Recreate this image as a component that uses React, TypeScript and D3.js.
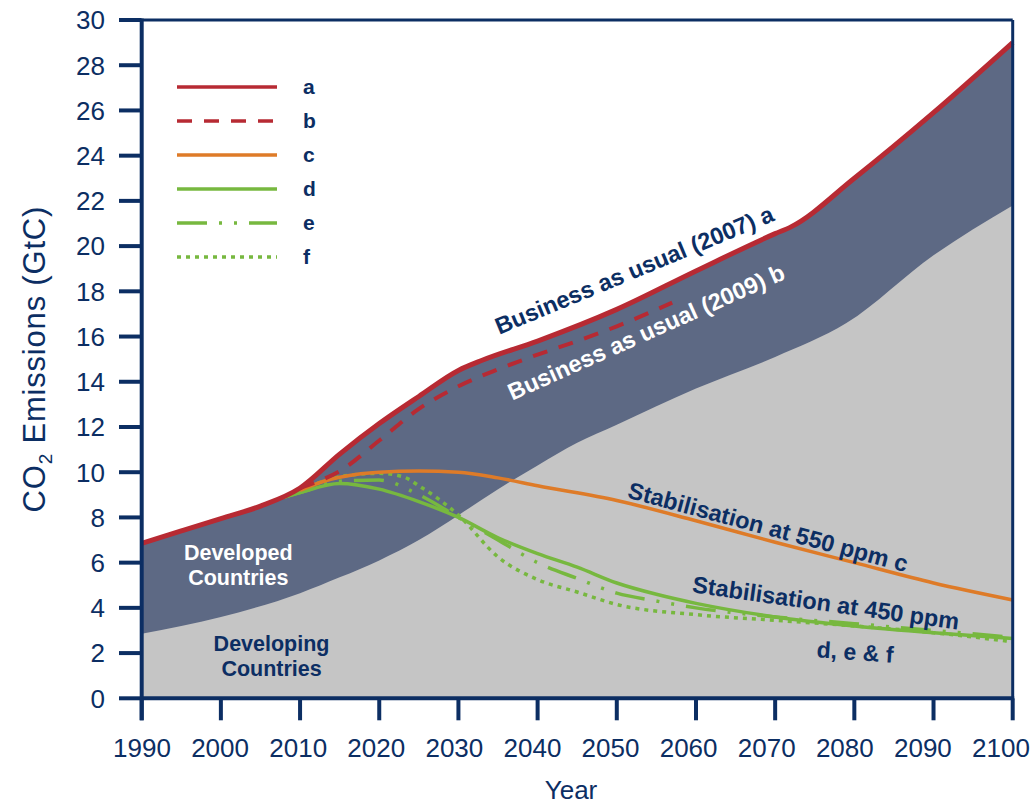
import React from 'react';
import * as d3 from 'd3';

// Business as usual (2007) a — also the top of the developed-countries band
const aYears = [1990, 1995, 2000, 2005, 2010, 2015, 2020, 2025, 2030, 2033, 2040, 2050, 2060, 2070, 2072, 2080, 2090, 2100];
const aValues = [6.85, 7.4, 7.95, 8.5, 9.3, 10.8, 12.15, 13.35, 14.5, 14.95, 15.8, 17.2, 18.9, 20.55, 20.85, 23.0, 25.9, 29.0];

// Business as usual (2009) b
const bYears = [2010, 2013, 2015, 2020, 2025, 2030, 2035, 2040, 2045, 2050, 2057];
const bValues = [9.3, 9.7, 10.05, 11.4, 12.8, 13.8, 14.55, 15.2, 15.8, 16.45, 17.5];

// Stabilisation at 550 ppm c
const cYears = [2010, 2013, 2017, 2020, 2025, 2030, 2035, 2040, 2050, 2060, 2070, 2080, 2090, 2100];
const cValues = [9.2, 9.6, 9.9, 10.0, 10.05, 10.0, 9.75, 9.4, 8.75, 7.85, 6.9, 6.0, 5.1, 4.35];

// Stabilisation at 450 ppm d, e & f
const dYears = [2008, 2010, 2015, 2020, 2025, 2030, 2035, 2040, 2045, 2050, 2055, 2060, 2070, 2080, 2090, 2100];
const dValues = [8.9, 9.1, 9.5, 9.25, 8.7, 8.0, 7.1, 6.4, 5.8, 5.1, 4.6, 4.2, 3.6, 3.2, 2.9, 2.65];
const eYears = [2008, 2010, 2015, 2020, 2025, 2030, 2035, 2040, 2045, 2050, 2055, 2060, 2070, 2080, 2090, 2100];
const eValues = [8.9, 9.1, 9.6, 9.65, 9.0, 8.0, 7.0, 6.0, 5.3, 4.65, 4.3, 4.0, 3.6, 3.3, 3.0, 2.7];
const fYears = [2008, 2010, 2015, 2020, 2023, 2025, 2030, 2035, 2040, 2045, 2050, 2060, 2070, 2080, 2090, 2100];
const fValues = [8.9, 9.2, 9.8, 9.95, 9.8, 9.4, 8.1, 6.25, 5.25, 4.7, 4.15, 3.7, 3.45, 3.2, 2.9, 2.5];

// Developing countries band (top edge)
const devYears = [1990, 2000, 2010, 2015, 2020, 2025, 2030, 2035, 2040, 2045, 2050, 2060, 2070, 2079, 2090, 2100];
const devValues = [2.85, 3.6, 4.65, 5.35, 6.1, 7.0, 8.1, 9.25, 10.3, 11.3, 12.1, 13.7, 15.1, 16.6, 19.6, 21.8];

const xTicks = [1990, 2000, 2010, 2020, 2030, 2040, 2050, 2060, 2070, 2080, 2090, 2100];
const yTicks = [0, 2, 4, 6, 8, 10, 12, 14, 16, 18, 20, 22, 24, 26, 28, 30];
const legendKeys = ['a', 'b', 'c', 'd', 'e', 'f'];

const NAVY = '#0c2e63';
const RED = '#b72a33';
const ORANGE = '#de7b28';
const GREEN = '#77b83f';
const SLATE = '#5d6984';
const GREY = '#c5c5c5';
const FONT = '"Liberation Sans", Arial, Helvetica, sans-serif';

const styles: Record<string, { color: string; width: number; dash?: string }> = {
  a: { color: RED, width: 5 },
  b: { color: RED, width: 4, dash: '15 12' },
  c: { color: ORANGE, width: 3.5 },
  d: { color: GREEN, width: 3.5 },
  e: { color: GREEN, width: 3.5, dash: '30 12 3 12 3 12' },
  f: { color: GREEN, width: 3.5, dash: '4 5' },
};

export default function App() {
  const left = 141.7, right = 1012.7, top = 20, bottom = 698.3;
  const x = d3.scaleLinear().domain([1990, 2100]).range([left, right]);
  const y = d3.scaleLinear().domain([0, 30]).range([bottom, top]);
  // year labels sit slightly left of their ticks toward the right end
  const xLabel = d3.scaleLinear().domain([1990, 2100]).range([142, 1001]);

  const zip = (ys: number[], vs: number[]) => ys.map((yr, i) => [yr, vs[i]] as [number, number]);
  const line = d3.line<[number, number]>().x(d => x(d[0])).y(d => y(d[1])).curve(d3.curveMonotoneX);
  const area = d3.area<[number, number]>().x(d => x(d[0])).y0(y(0)).y1(d => y(d[1])).curve(d3.curveMonotoneX);

  const series: Record<string, [number, number][]> = {
    a: zip(aYears, aValues),
    b: zip(bYears, bValues),
    c: zip(cYears, cValues),
    d: zip(dYears, dValues),
    e: zip(eYears, eValues),
    f: zip(fYears, fValues),
  };
  const drawOrder = ['f', 'e', 'd', 'c', 'b', 'a'];

  const label = (text: string, yr: number, v: number, angle: number, fill: string, size = 23.5) => (
    <text
      key={text}
      transform={`translate(${x(yr)},${y(v)}) rotate(${angle})`}
      textAnchor="middle"
      dy="0.35em"
      fill={fill}
      fontFamily={FONT}
      fontWeight={700}
      fontSize={size}
    >
      {text}
    </text>
  );

  return (
    <svg width={1036} height={804} style={{ position: 'absolute', left: 0, top: 0 }}>
      <rect width={1036} height={804} fill="#fff" />
      {/* stacked bands */}
      <path d={area(series.a) || ''} fill={SLATE} />
      <path d={area(zip(devYears, devValues)) || ''} fill={GREY} />

      {/* scenario lines */}
      {drawOrder.map(k => (
        <path
          key={k}
          d={line(series[k]) || ''}
          fill="none"
          stroke={styles[k].color}
          strokeWidth={styles[k].width}
          strokeDasharray={styles[k].dash}
        />
      ))}

      {/* annotations */}
      {label('Business as usual (2007) a', 2052.2, 18.95, -22.5, NAVY)}
      {label('Business as usual (2009) b', 2053.7, 16.2, -24, '#fff')}
      {label('Stabilisation at 550 ppm c', 2069.1, 7.58, 15, NAVY)}
      {label('Stabilisation at 450 ppm', 2076.4, 4.22, 8, NAVY)}
      {label('d, e & f', 2080.1, 2.05, 4, NAVY, 23)}
      <text x={x(2002.2)} y={y(5.94)} textAnchor="middle" fill="#fff" fontFamily={FONT} fontWeight={700} fontSize={21.5}>
        <tspan x={x(2002.2)} dy="-0.2em">Developed</tspan>
        <tspan x={x(2002.2)} dy="1.2em">Countries</tspan>
      </text>
      <text x={x(2006.4)} y={y(1.92)} textAnchor="middle" fill={NAVY} fontFamily={FONT} fontWeight={700} fontSize={21.5}>
        <tspan x={x(2006.4)} dy="-0.2em">Developing</tspan>
        <tspan x={x(2006.4)} dy="1.2em">Countries</tspan>
      </text>

      {/* legend */}
      {legendKeys.map((k, i) => (
        <g key={k} transform={`translate(0,${87 + i * 34})`}>
          <line
            x1={177}
            x2={277}
            stroke={styles[k].color}
            strokeWidth={3.5}
            strokeDasharray={styles[k].dash}
          />
          <text x={303} dy="0.35em" fill={NAVY} fontFamily={FONT} fontWeight={700} fontSize={21}>
            {k}
          </text>
        </g>
      ))}

      {/* frame */}
      <line x1={left} x2={right} y1={top} y2={top} stroke={NAVY} strokeWidth={3} />
      <line x1={right} x2={right} y1={top} y2={bottom} stroke={NAVY} strokeWidth={3} />
      <line x1={left} x2={right + 1.5} y1={bottom} y2={bottom} stroke={NAVY} strokeWidth={4} />
      <line x1={left} x2={left} y1={top - 1.5} y2={bottom + 22} stroke={NAVY} strokeWidth={4} />

      {/* y axis */}
      {yTicks.map(t => (
        <g key={t}>
          <line x1={119} x2={left} y1={y(t)} y2={y(t)} stroke={NAVY} strokeWidth={4} />
          <text x={105} y={y(t)} dy="0.36em" textAnchor="end" fill={NAVY} fontFamily={FONT} fontSize={26}>
            {t}
          </text>
        </g>
      ))}
      {/* x axis */}
      {xTicks.map(t => (
        <g key={t}>
          <line x1={x(t)} x2={x(t)} y1={bottom} y2={bottom + 22} stroke={NAVY} strokeWidth={4} />
          <text x={xLabel(t)} y={757} textAnchor="middle" fill={NAVY} fontFamily={FONT} fontSize={26}>
            {t}
          </text>
        </g>
      ))}
      <text x={571} y={799} textAnchor="middle" fill={NAVY} fontFamily={FONT} fontSize={26}>
        Year
      </text>
      <text
        transform={`translate(45,${(top + bottom) / 2}) rotate(-90)`}
        textAnchor="middle"
        fill={NAVY}
        fontFamily={FONT}
        fontSize={31}
        letterSpacing={0.8}
      >
        CO<tspan fontSize={19} dy="7">2</tspan>
        <tspan dy="-7"> Emissions (GtC)</tspan>
      </text>
    </svg>
  );
}
